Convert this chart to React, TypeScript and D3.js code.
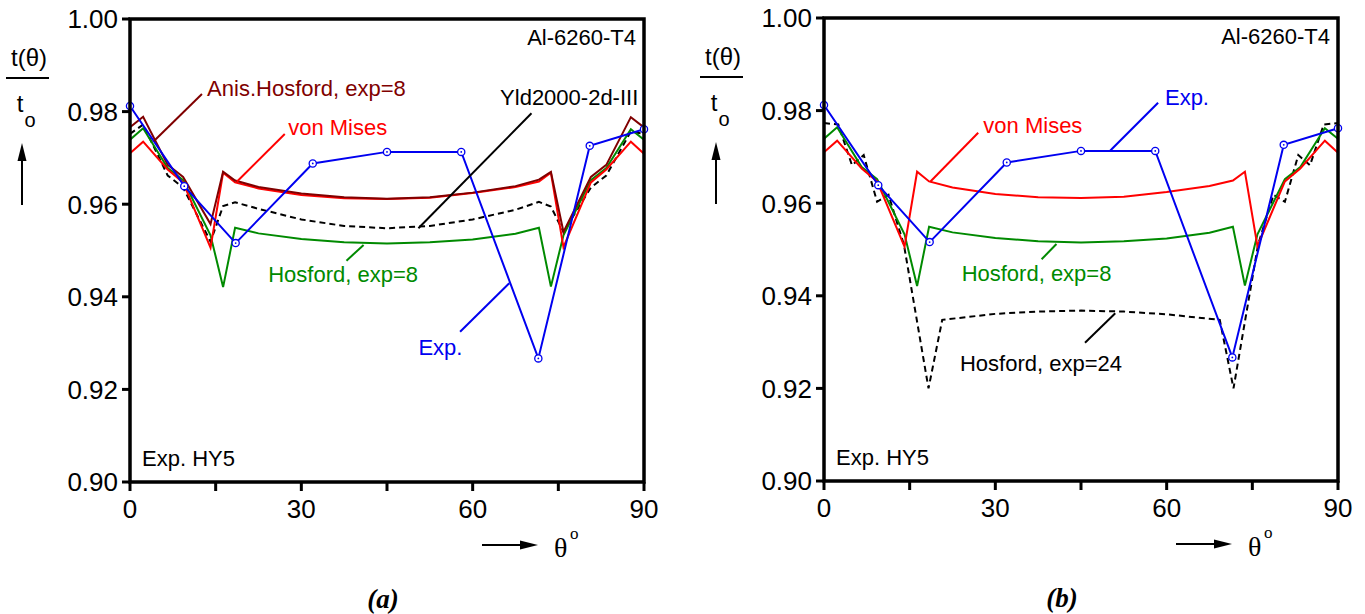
import React from "react";
import * as d3 from "d3";

// model curves, angle in degrees
const modelTheta = [0, 2.3, 6.6, 9.3, 14.1, 16.3, 18.4, 22.5, 30, 37.5, 45, 52.5, 60, 67.5, 71.6, 73.7, 75.9, 80.7, 83.4, 87.7, 90];
const vonMises = [0.9710, 0.9735, 0.9675, 0.9647, 0.9506, 0.9668, 0.9647, 0.9634, 0.9620, 0.9613, 0.9611, 0.9614, 0.9624, 0.9637, 0.9649, 0.9668, 0.9507, 0.9647, 0.9675, 0.9735, 0.9709];
const anisHosford = [0.9766, 0.9789, 0.9685, 0.9659, 0.9557, 0.9670, 0.9651, 0.9637, 0.9623, 0.9615, 0.9612, 0.9615, 0.9625, 0.9639, 0.9653, 0.9670, 0.9540, 0.9659, 0.9685, 0.9788, 0.9766];
const hosford8 = [0.9739, 0.9764, 0.9678, 0.9652, 0.9533, 0.9421, 0.9549, 0.9537, 0.9525, 0.9518, 0.9515, 0.9518, 0.9524, 0.9536, 0.9549, 0.9422, 0.9533, 0.9652, 0.9678, 0.9762, 0.9739];
const yld2000 = [0.9752, 0.9772, 0.9662, 0.9636, 0.9519, 0.9596, 0.9604, 0.9590, 0.9567, 0.9553, 0.9548, 0.9553, 0.9567, 0.9588, 0.9605, 0.9595, 0.9540, 0.9636, 0.9662, 0.9757, 0.9752];

const h24Theta = [0, 2.5, 4.9, 6.95, 9.3, 11.3, 14.0, 18.3, 20.7, 30, 37.5, 45, 52.5, 60, 69.3, 71.7, 76.0, 78.7, 80.7, 83.05, 85.1, 87.5, 90];
const hosford24 = [0.9773, 0.9770, 0.9682, 0.9704, 0.9603, 0.9618, 0.9510, 0.9200, 0.9348, 0.9361, 0.9366, 0.9368, 0.9366, 0.9360, 0.9348, 0.9200, 0.9510, 0.9618, 0.9603, 0.9704, 0.9682, 0.9770, 0.9773];

const expTheta = [0, 9.5, 18.5, 32, 45, 58, 71.5, 80.5, 90];
const expValue = [0.9812, 0.9639, 0.9516, 0.9688, 0.9713, 0.9713, 0.9267, 0.9726, 0.9762];

const yTicks = [0.9, 0.92, 0.94, 0.96, 0.98, 1.0];
const xTicks = [0, 15, 30, 45, 60, 75, 90];
const xLabels = [0, 30, 60, 90];

const W = 514, H = 463;
const SANS = "'Liberation Sans', Arial, Helvetica, sans-serif";
const SERIF = "'Liberation Serif', 'Times New Roman', serif";

const BLUE = "#0000f0", RED = "#ff0000", GREEN = "#008a00", DARK = "#800000";

const x = d3.scaleLinear().domain([0, 90]).range([0, W]);
const y = d3.scaleLinear().domain([0.9, 1.0]).range([H, 0]);

const zip = (xs, ys) => xs.map((t, i) => [t, ys[i]]);
const line = d3.line().x(d => x(d[0])).y(d => y(d[1]));

// annotations: text anchor [theta, value], leader from -> to
const annotA = [
  {text: "Anis.Hosford, exp=8", color: DARK, at: [13.5, 0.9834], from: [12.6, 0.9838], to: [4.2, 0.97365]},
  {text: "von Mises", color: RED, at: [27.7, 0.97495], from: [27.1, 0.97516], to: [18.7, 0.96486]},
  {text: "Yld2000-2d-III", color: "#000", at: [64.8, 0.98143], from: [70.3, 0.97963], to: [50.5, 0.9548]},
  {text: "Hosford, exp=8", color: GREEN, at: [24.2, 0.94326], from: [37.9, 0.9478], to: [40.9, 0.95119]},
  {text: "Exp.", color: BLUE, at: [50.5, 0.92743], from: [57.8, 0.93246], to: [66.4, 0.94292]},
];
const annotB = [
  {text: "von Mises", color: RED, at: [27.9, 0.97516], from: [27.0, 0.97523], to: [18.6, 0.96464]},
  {text: "Exp.", color: BLUE, at: [59.7, 0.98121], from: [58.5, 0.98171], to: [50.1, 0.97134]},
  {text: "Hosford, exp=8", color: GREEN, at: [24.1, 0.94326], from: [38.1, 0.94788], to: [40.7, 0.95119]},
  {text: "Hosford, exp=24", color: "#000", at: [23.8, 0.92382], from: [45.7, 0.92987], to: [51.0, 0.93622]},
];

const seriesA = [
  {data: zip(modelTheta, yld2000), color: "#000", dash: "6,4"},
  {data: zip(modelTheta, hosford8), color: GREEN},
  {data: zip(modelTheta, vonMises), color: RED},
  {data: zip(modelTheta, anisHosford), color: DARK},
];
const seriesB = [
  {data: zip(h24Theta, hosford24), color: "#000", dash: "6,4"},
  {data: zip(modelTheta, hosford8), color: GREEN},
  {data: zip(modelTheta, vonMises), color: RED},
];

function Panel({left, top, series, annots, caption, captionX}) {
  const exp = zip(expTheta, expValue);
  return (
    <g transform={`translate(${left},${top})`}>
      {series.map((s, i) => (
        <path key={i} d={line(s.data)} fill="none" stroke={s.color} strokeWidth={2}
              strokeDasharray={s.dash} strokeLinejoin="miter"/>
      ))}
      <path d={line(exp)} fill="none" stroke={BLUE} strokeWidth={2}/>
      {exp.map((d, i) => (
        <g key={i}>
          <circle cx={x(d[0])} cy={y(d[1])} r={3.6} fill="#fff" stroke={BLUE} strokeWidth={1.3}/>
          <circle cx={x(d[0])} cy={y(d[1])} r={0.9} fill={BLUE}/>
        </g>
      ))}
      {annots.map((a, i) => (
        <g key={i}>
          <line x1={x(a.from[0])} y1={y(a.from[1])} x2={x(a.to[0])} y2={y(a.to[1])} stroke={a.color} strokeWidth={2}/>
          <text x={x(a.at[0])} y={y(a.at[1])} fill={a.color} fontSize={22} fontFamily={SANS}>{a.text}</text>
        </g>
      ))}
      <text x={W - 8} y={26} textAnchor="end" fontSize={22} fontFamily={SANS}>Al-6260-T4</text>
      <text x={12} y={H - 16} fontSize={22} fontFamily={SANS}>Exp. HY5</text>

      {/* frame + ticks */}
      <rect x={0} y={0} width={W} height={H} fill="none" stroke="#000" strokeWidth={3.5}/>
      {xTicks.map(t => (
        <line key={t} x1={x(t)} x2={x(t)} y1={H} y2={H + 9} stroke="#000" strokeWidth={3}/>
      ))}
      {yTicks.map(t => (
        <line key={t} x1={-8} x2={0} y1={y(t)} y2={y(t)} stroke="#000" strokeWidth={3}/>
      ))}
      {yTicks.map(t => (
        <text key={t} x={-12} y={y(t)} dy="0.36em" textAnchor="end" fontSize={26} fontFamily={SANS}>{d3.format(".2f")(t)}</text>
      ))}
      {xLabels.map(t => (
        <text key={t} x={x(t)} y={H + 36} textAnchor="middle" fontSize={26} fontFamily={SANS}>{t}</text>
      ))}

      {/* y label */}
      <text x={-101} y={47} textAnchor="middle" fontSize={24} fontFamily={SANS}>t(θ)</text>
      <line x1={-124} x2={-81} y1={59} y2={59} stroke="#000" strokeWidth={2}/>
      <text x={-110} y={93} textAnchor="middle" fontSize={24} fontFamily={SANS}>t</text>
      <text x={-100} y={108} textAnchor="middle" fontSize={20} fontFamily={SANS}>o</text>
      <line x1={-108} x2={-108} y1={186} y2={138} stroke="#000" strokeWidth={2}/>
      <path d="M -108 124 L -112.5 142 L -103.5 142 Z" fill="#000"/>

      {/* x label */}
      <line x1={352} x2={394} y1={526} y2={526} stroke="#000" strokeWidth={2}/>
      <path d="M 408 526 L 390 521.5 L 390 530.5 Z" fill="#000"/>
      <text x={424} y={538} fontSize={28} fontFamily={SERIF}>θ</text>
      <text x={440} y={520} fontSize={17} fontFamily={SERIF}>o</text>

      <text x={captionX} y={589} textAnchor="middle" fontSize={27} fontWeight="bold" fontStyle="italic" fontFamily={SERIF}>{caption}</text>
    </g>
  );
}

export default function App() {
  return (
    <svg width={1365} height={614} style={{position: "absolute", left: 0, top: 0, background: "#fff"}}>
      <Panel left={130} top={19} series={seriesA} annots={annotA} caption="(a)" captionX={253}/>
      <Panel left={824} top={18} series={seriesB} annots={annotB} caption="(b)" captionX={238}/>
    </svg>
  );
}
